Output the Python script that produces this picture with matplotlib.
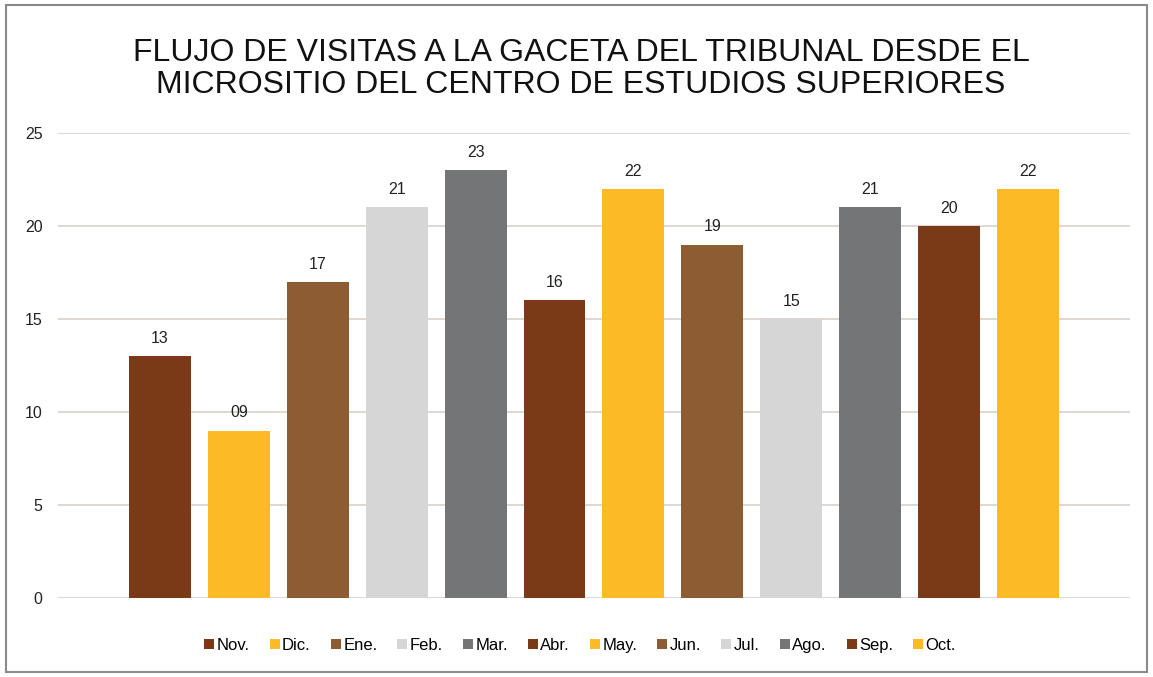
import matplotlib.pyplot as plt
from matplotlib.patches import Rectangle, Patch

plt.rcParams['font.family'] = ['Liberation Sans', 'DejaVu Sans']

# datos
meses = ["Nov.", "Dic.", "Ene.", "Feb.", "Mar.", "Abr.", "May.", "Jun.", "Jul.", "Ago.", "Sep.", "Oct."]
visitas = [13, 9, 17, 21, 23, 16, 22, 19, 15, 21, 20, 22]
etiquetas = ["13", "09", "17", "21", "23", "16", "22", "19", "15", "21", "20", "22"]
colores = ["#7B3A17", "#FBBA26", "#8E5C33", "#D6D6D6", "#737576", "#7B3A17",
           "#FBBA26", "#8E5C33", "#D6D6D6", "#737576", "#7B3A17", "#FBBA26"]

fig = plt.figure(figsize=(11.53, 6.77), dpi=100)
ax = fig.add_axes([0.0503, 0.1167, 0.9297, 0.6868])

x = list(range(len(meses)))
ax.bar(x, visitas, width=0.785, color=colores, zorder=3)

for xi, v, t in zip(x, visitas, etiquetas):
    ax.text(xi, v + 0.55, t, ha="center", va="bottom", fontsize=11.5, color="#222222")

ax.set_xlim(-1.29, 12.29)
ax.set_ylim(0, 25)
ax.set_yticks([0, 5, 10, 15, 20, 25])
ax.set_xticks([])
ax.tick_params(axis="y", length=0, labelsize=11.5, labelcolor="#222222", pad=11)
ax.yaxis.grid(True, color="#DCD3CE", linewidth=1.3, zorder=0)
for s in ax.spines.values():
    s.set_visible(False)

fig.text(0.504, 0.898, "FLUJO DE VISITAS A LA GACETA DEL TRIBUNAL DESDE EL\nMICROSITIO DEL CENTRO DE ESTUDIOS SUPERIORES",
         ha="center", va="center", fontsize=23, linespacing=1.12, color="#111111")

handles = [Patch(facecolor=c, label=m) for m, c in zip(meses, colores)]
fig.legend(handles=handles, loc="center", bbox_to_anchor=(0.503, 0.047), ncol=12,
           frameon=False, fontsize=12, handlelength=0.6, handleheight=0.6,
           handletextpad=0.15, columnspacing=1.2)

fig.patches.append(Rectangle((0.005, 0.007), 0.99, 0.985, transform=fig.transFigure,
                             fill=False, edgecolor="#8A8A8A", linewidth=1.5))

fig.savefig("out.png", dpi=100)
